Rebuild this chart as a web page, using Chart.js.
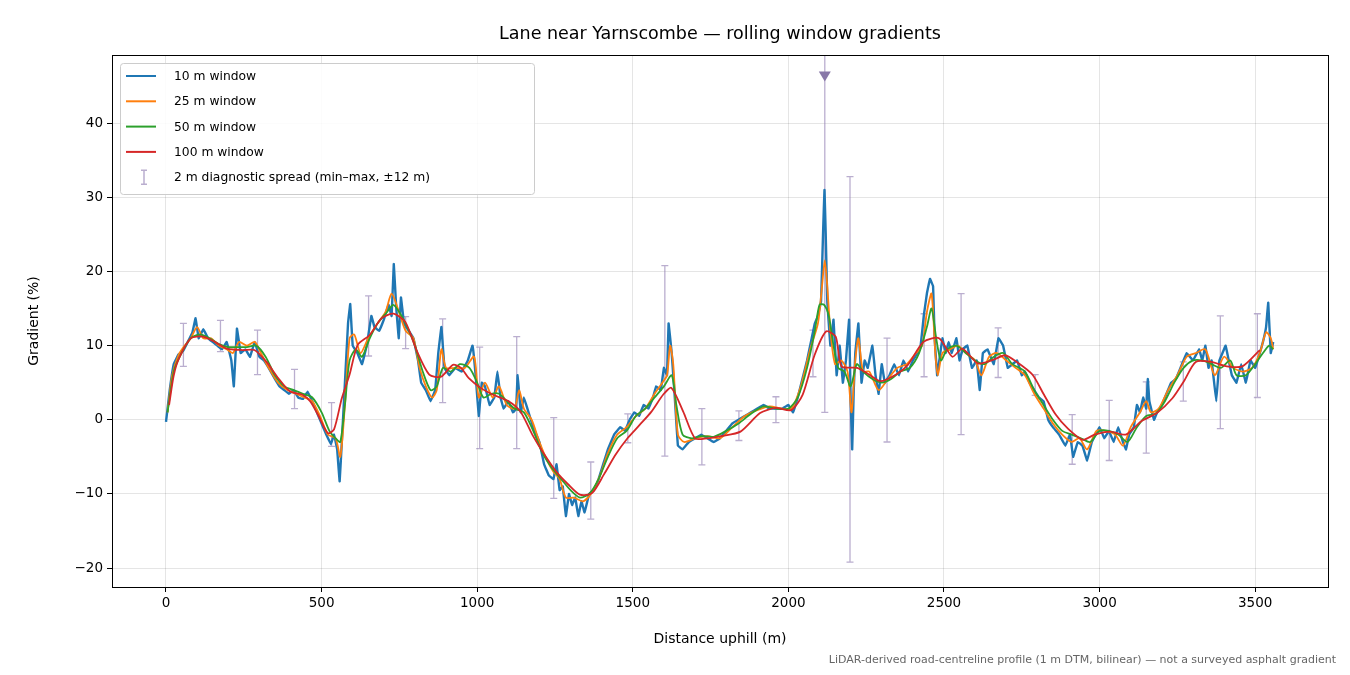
<!DOCTYPE html>
<html><head><meta charset="utf-8">
<script src="https://cdn.jsdelivr.net/npm/chart.js@4.4.1/dist/chart.umd.min.js"></script>
<style>html,body{margin:0;padding:0;background:#fff}#w{width:1350px;height:675px;position:relative}</style>
</head><body><div id="w"><canvas id="c"></canvas></div>
<script>
const xTicks=[0,500,1000,1500,2000,2500,3000,3500];
const yTicks=[-20,-10,0,10,20,30,40];
const seriesNames=["10 m window","25 m window","50 m window","100 m window"];
const spreadLabel="2 m diagnostic spread (min\u2013max, \u00b112 m)";
const w10=[[0,-0.3],[12,4],[25,7.5],[40,8.8],[55,9.3],[70,10.5],[85,11.8],[95,13.7],[105,11],[120,12.2],[135,11],[150,10.5],[165,10],[180,9.5],[195,10.5],[210,8],[218,4.5],[228,12.3],[240,9],[255,9.5],[270,8.5],[285,10.5],[300,8.5],[315,8],[330,7],[350,5.5],[365,4.5],[380,4],[395,3.5],[410,4],[425,3],[440,2.8],[455,3.8],[470,2.5],[480,1.5],[495,0],[505,-1],[515,-2],[530,-3.3],[540,-2],[550,-4],[558,-8.3],[565,-3],[575,5],[585,13],[592,15.6],[600,10],[615,9],[630,7.5],[645,10],[660,14],[670,12.5],[685,12],[700,13.5],[715,15.5],[725,14],[732,21],[740,15],[748,11],[755,16.5],[765,13],[780,12],[795,11],[810,8],[820,5],[835,4],[850,2.5],[865,4],[875,9],[885,12.5],[895,7],[910,6],[930,7],[950,6.5],[970,8],[985,10],[995,6],[1005,0.5],[1015,5],[1025,4.5],[1040,2],[1055,3],[1065,6.5],[1075,3],[1085,1.5],[1100,2.5],[1115,1],[1125,1.5],[1130,6],[1140,1],[1150,3],[1165,1],[1180,-1],[1200,-3],[1215,-6],[1230,-7.5],[1245,-8],[1255,-6],[1265,-9.5],[1275,-9],[1285,-13],[1295,-10],[1305,-11.5],[1315,-10.5],[1325,-13],[1335,-11],[1345,-12.5],[1360,-10],[1375,-9.5],[1390,-8],[1405,-6],[1420,-4],[1440,-2],[1460,-1],[1475,-1.5],[1490,0],[1505,1],[1520,0.5],[1535,2],[1550,1.5],[1565,3],[1575,4.5],[1590,4],[1600,7],[1610,6],[1615,13],[1625,9],[1635,3],[1645,-3.5],[1660,-4],[1680,-3],[1700,-2.5],[1720,-2],[1740,-2.5],[1760,-3],[1780,-2.5],[1800,-1.5],[1820,-0.5],[1840,0],[1860,0.5],[1880,1],[1900,1.5],[1920,2],[1940,1.5],[1960,1.5],[1980,1.5],[2000,2],[2015,1],[2030,3],[2045,5.5],[2060,8],[2075,11],[2085,13],[2095,14],[2105,16],[2112,26],[2116,31],[2120,25],[2125,16],[2135,10],[2145,13.5],[2155,6],[2165,10],[2175,5],[2185,8],[2195,13.5],[2200,3],[2205,-4],[2210,4],[2215,9],[2225,13],[2235,5],[2245,8],[2255,7],[2270,10],[2280,6],[2290,3.5],[2300,7.5],[2310,5],[2325,6],[2340,7.5],[2355,6],[2370,8],[2385,6.5],[2400,8],[2415,9],[2425,10],[2435,14],[2445,17],[2455,19],[2465,18],[2470,11],[2478,6],[2485,8],[2495,11],[2505,9],[2515,10.5],[2525,9],[2540,11],[2550,8],[2560,9.5],[2575,10],[2590,7],[2605,8],[2615,4],[2625,9],[2640,9.5],[2660,7.5],[2675,11],[2690,10],[2705,7],[2720,7.5],[2735,8],[2750,6],[2760,6.5],[2775,5],[2790,4],[2805,3],[2820,2.5],[2835,0],[2850,-1],[2870,-2],[2890,-3.5],[2905,-2],[2915,-5],[2930,-3],[2945,-3.5],[2960,-5.5],[2975,-3],[3000,-1],[3015,-2.5],[3030,-1.5],[3045,-3],[3060,-1],[3075,-3],[3085,-4],[3095,-2],[3110,-1],[3120,2],[3130,1],[3140,3],[3150,1.5],[3155,5.5],[3160,2.5],[3175,0],[3185,1],[3200,2],[3215,3.5],[3230,5],[3245,5.5],[3260,7],[3280,9],[3300,8],[3320,9.5],[3330,8],[3340,10],[3350,7],[3360,8],[3375,2.5],[3385,8],[3395,9],[3405,10],[3415,8],[3425,6],[3440,5],[3455,7.5],[3470,5],[3485,8],[3500,7],[3515,9],[3525,10.5],[3535,12.5],[3542,15.8],[3550,9],[3558,10.5]];
const w25=[[5,1],[20,6],[40,8.7],[60,10],[80,11],[100,12.5],[120,11],[145,11],[170,10],[195,9.5],[215,9],[235,10.5],[260,10],[285,10.5],[305,9],[330,7],[360,5],[390,4],[420,3.5],[445,3],[470,2.5],[495,0.5],[520,-2],[545,-2.5],[560,-5],[575,2],[590,11],[605,11.5],[625,9],[650,11],[680,13],[705,14.5],[725,17],[745,15],[770,12],[795,11],[815,7],[835,4.5],[855,3],[870,4],[885,9.5],[900,7],[930,7],[960,7],[990,8.5],[1005,3],[1025,5],[1050,3],[1070,4.5],[1095,2],[1120,1.5],[1135,4],[1150,1.5],[1175,0],[1200,-3],[1225,-5.5],[1245,-7],[1265,-8],[1285,-10.5],[1310,-10.5],[1340,-11],[1365,-10],[1395,-7.5],[1420,-4.5],[1450,-2],[1480,-1],[1510,0.5],[1540,1.5],[1570,3.5],[1595,5],[1610,6],[1620,10],[1630,7.5],[1645,-2],[1665,-3],[1700,-2.5],[1740,-2.2],[1780,-2.5],[1820,-1],[1860,0.5],[1900,1.3],[1940,1.8],[1980,1.5],[2010,1.5],[2040,4.5],[2070,9.5],[2095,13],[2108,18],[2117,21.5],[2125,18],[2135,12],[2150,7.5],[2170,8],[2190,6.5],[2203,1],[2215,8],[2225,11],[2240,6.5],[2260,6.5],[2290,4],[2320,5.5],[2350,7],[2380,7.5],[2410,9],[2430,10],[2445,14.5],[2460,17],[2472,9],[2480,6],[2495,9],[2520,9.5],[2545,10],[2570,9],[2600,8],[2620,6],[2645,8.5],[2670,9],[2700,8],[2730,7],[2760,6],[2790,3.5],[2820,1.5],[2850,-0.5],[2880,-2],[2910,-3],[2935,-2.5],[2960,-4],[2990,-1.5],[3020,-1.5],[3050,-2],[3075,-3.5],[3100,-1],[3130,1],[3150,2.5],[3165,1],[3190,1.5],[3220,4],[3250,6],[3280,8.5],[3310,9],[3340,9.5],[3370,6],[3400,8.5],[3430,7],[3460,6.5],[3490,7],[3515,9],[3535,11.8],[3550,11],[3558,9.5]];
const w50=[[5,1],[25,6.5],[50,9],[80,11],[110,11.5],[140,11],[170,10.2],[200,9.8],[230,9.8],[260,9.8],[290,10],[320,8.5],[350,6],[380,4.5],[410,4],[440,3.5],[470,3],[500,1],[525,-1.5],[545,-2.5],[560,-3],[575,2],[590,8],[610,9.5],[630,8.5],[655,11],[680,13],[710,14.5],[730,15.5],[750,14.5],[775,12.5],[800,10],[825,6.5],[850,4],[870,4.5],[890,7],[915,6.5],[945,7.5],[975,7],[1000,5],[1020,3],[1045,3.5],[1070,3.5],[1095,2.5],[1120,1.5],[1150,1],[1180,-1.5],[1210,-4.5],[1240,-6.5],[1270,-8],[1300,-9.5],[1330,-10.5],[1360,-10],[1390,-8],[1420,-5],[1450,-2.5],[1480,-1.5],[1510,0.5],[1540,1.5],[1570,3],[1600,4.5],[1625,6],[1640,2],[1660,-2],[1690,-2.5],[1720,-2.2],[1760,-2.3],[1800,-1.5],[1840,-0.5],[1880,0.8],[1920,1.8],[1960,1.5],[2000,1.5],[2030,3],[2060,7],[2085,12],[2100,15.5],[2115,15.5],[2130,14],[2145,10],[2160,7],[2180,6.5],[2200,4.5],[2220,7.5],[2240,6.5],[2270,5.5],[2300,5],[2330,5.5],[2360,6.5],[2390,7],[2420,9],[2445,12.5],[2460,15],[2475,11],[2490,8],[2510,9.5],[2540,10],[2570,9],[2600,8],[2630,7.5],[2660,8.5],[2690,9],[2720,7.5],[2760,6.5],[2790,4],[2820,2],[2850,0],[2880,-1.5],[2910,-2],[2940,-2.5],[2970,-3],[3000,-1.5],[3030,-1.5],[3060,-2],[3090,-3],[3120,-1],[3150,0.5],[3180,0.8],[3210,2.5],[3240,5],[3270,7],[3300,8],[3330,8],[3360,7.5],[3390,7],[3420,8],[3440,6],[3470,6],[3500,7.5],[3525,9],[3545,10],[3558,9.5]];
const w100=[[10,2],[25,6],[42,8.3],[80,11],[119,11.2],[157,10.5],[195,9.6],[246,9.4],[284,9.4],[323,7.8],[361,5.6],[399,3.8],[437,3.4],[463,2.5],[488,0.7],[520,-1.8],[540,-1.3],[565,2.9],[590,6.1],[616,10.1],[654,11.4],[693,13.7],[731,14.3],[769,13.2],[807,9.2],[846,6.1],[884,5.8],[922,7.4],[948,7],[973,5.6],[1011,4.3],[1050,3.4],[1101,2.5],[1139,1.1],[1177,-2],[1216,-4.7],[1254,-7],[1292,-8.7],[1330,-10.1],[1369,-9.9],[1407,-7.4],[1445,-4.7],[1483,-2.5],[1522,-0.7],[1560,1.1],[1598,3.4],[1624,4.3],[1662,1.1],[1700,-2.5],[1739,-2.5],[1784,-2.2],[1846,-1.6],[1909,0.9],[1959,1.6],[2009,1.3],[2046,3.4],[2084,8.7],[2121,11.9],[2152,11.2],[2171,7.2],[2221,7],[2259,6.1],[2296,5.2],[2346,6.1],[2384,7.4],[2434,10.5],[2484,11],[2527,8.5],[2559,9.6],[2609,7.6],[2659,8.1],[2696,8.7],[2734,7.8],[2784,6.1],[2821,3.4],[2859,0.7],[2896,-1.1],[2946,-2.7],[2984,-2],[3034,-1.6],[3084,-2],[3134,-0.2],[3184,0.9],[3234,2.9],[3271,5.2],[3309,7.8],[3359,7.8],[3409,7.2],[3459,7.2],[3515,9.4]];
const spreadX=[56,175,294,413,532,651,770,889,1008,1127,1246,1365,1484,1603,1722,1841,1960,2079,2117,2198,2317,2436,2555,2674,2793,2912,3031,3150,3269,3388,3507];
const spreadMin=[7.2,9.2,6.1,1.5,-3.6,8.6,9.6,2.3,-3.9,-3.9,-10.6,-13.4,-3.1,-4.9,-6.1,-2.8,-0.4,5.8,1.0,-19.2,-3.0,5.8,-2.0,5.7,3.3,-6.0,-5.5,-4.5,2.5,-1.2,3.0];
const spreadMax=[13.0,13.4,12.1,6.8,2.3,16.7,13.9,13.6,9.8,11.2,0.3,-5.7,0.8,20.8,1.5,1.2,3.1,12.1,75,32.8,11.0,14.3,17.0,12.4,6.1,0.7,2.6,5.1,7.8,14.0,14.3];
const colors=["#1f77b4","#ff7f0e","#2ca02c","#d62728"];
const spreadColor="rgba(140,120,175,0.6)";
const toPts=a=>a.map(p=>({x:p[0],y:p[1]}));
const X0=-173.5,X1=3734,Y0=-22.56,Y1=49.2;

const deco={id:'deco',
 beforeDatasetsDraw(ch){const c=ch.ctx,xs=ch.scales.x,ys=ch.scales.y,a=ch.chartArea;
  c.save();c.beginPath();c.rect(a.left,a.top,a.right-a.left,a.bottom-a.top);c.clip();
  c.strokeStyle=spreadColor;c.lineWidth=1.3;
  for(let i=0;i<spreadX.length;i++){const px=xs.getPixelForValue(spreadX[i]);
    const t=ys.getPixelForValue(Math.min(spreadMax[i],Y1)),b=ys.getPixelForValue(spreadMin[i]);
    c.beginPath();c.moveTo(px,t);c.lineTo(px,b);
    if(spreadMax[i]<Y1){c.moveTo(px-3.5,t);c.lineTo(px+3.5,t);}
    c.moveTo(px-3.5,b);c.lineTo(px+3.5,b);c.stroke();
    if(spreadMax[i]>=Y1){const my=ys.getPixelForValue(46.3);c.fillStyle="#8878a8";c.beginPath();c.moveTo(px-6,my-5);c.lineTo(px+6,my-5);c.lineTo(px,my+5);c.closePath();c.fill();}
  }
  c.restore();},
 afterDraw(ch){const c=ch.ctx,a=ch.chartArea;c.save();
  c.strokeStyle="#000";c.lineWidth=1;c.strokeRect(a.left+0.5,a.top+0.5,a.right-a.left,a.bottom-a.top);
  c.fillStyle="#000";c.textAlign="center";c.textBaseline="middle";
  c.font="17.5px 'DejaVu Sans'";c.fillText("Lane near Yarnscombe \u2014 rolling window gradients",(a.left+a.right)/2,34);
  c.font="14px 'DejaVu Sans'";c.fillText("Distance uphill (m)",(a.left+a.right)/2,639);
  c.save();c.translate(34,(a.top+a.bottom)/2);c.rotate(-Math.PI/2);c.fillText("Gradient (%)",0,0);c.restore();
  c.fillStyle="#666";c.textAlign="right";c.font="11px 'DejaVu Sans'";c.fillText("LiDAR-derived road-centreline profile (1 m DTM, bilinear) \u2014 not a surveyed asphalt gradient",1336,660);
  const lx=120,ly=63;c.fillStyle="rgba(255,255,255,0.85)";c.strokeStyle="#ccc";c.lineWidth=1;
  c.beginPath();c.roundRect(lx+0.5,ly+0.5,414,131,3);c.fill();c.stroke();
  c.font="12.3px 'DejaVu Sans'";c.textAlign="left";c.fillStyle="#000";
  for(let i=0;i<4;i++){const y=ly+13+i*25.3;c.strokeStyle=colors[i];c.lineWidth=2;c.beginPath();c.moveTo(lx+6,y);c.lineTo(lx+36,y);c.stroke();c.fillStyle="#000";c.fillText(seriesNames[i],lx+54,y+1);}
  const y=ly+13+4*25.3;c.strokeStyle=spreadColor;c.lineWidth=1.5;c.beginPath();c.moveTo(lx+24,y-7);c.lineTo(lx+24,y+7);c.moveTo(lx+21,y-7);c.lineTo(lx+27,y-7);c.moveTo(lx+21,y+7);c.lineTo(lx+27,y+7);c.stroke();
  c.fillStyle="#000";c.fillText(spreadLabel,lx+54,y+1);
  c.restore();}
};
const ds=[w10,w25,w50,w100].map((d,i)=>({label:seriesNames[i],data:toPts(d),borderColor:colors[i],borderWidth:i===0?2.4:1.8,pointRadius:0,tension:i===0?0.05:0.25,order:4-i,fill:false}));
new Chart(document.getElementById('c'),{type:'line',data:{datasets:ds},
 options:{responsive:true,maintainAspectRatio:false,animation:false,devicePixelRatio:1,
  layout:{padding:{top:55,right:22,left:0,bottom:0}},
  plugins:{legend:{display:false},tooltip:{enabled:false},title:{display:false}},
  scales:{
   x:{type:'linear',min:X0,max:X1,afterBuildTicks:s=>{s.ticks=xTicks.map(v=>({value:v}));},afterFit:s=>{s.height=88;},
     grid:{color:"rgba(0,0,0,0.1)",tickColor:"#000",tickLength:5},border:{display:false},
     ticks:{color:"#000",font:{family:"DejaVu Sans",size:13.5},padding:3,maxRotation:0,callback:v=>String(v)}},
   y:{type:'linear',min:Y0,max:Y1,afterBuildTicks:s=>{s.ticks=yTicks.map(v=>({value:v}));},afterFit:s=>{s.width=112;},
     grid:{color:"rgba(0,0,0,0.1)",tickColor:"#000",tickLength:5},border:{display:false},
     ticks:{color:"#000",font:{family:"DejaVu Sans",size:13.5},padding:4,callback:v=>v<0?"\u2212"+Math.abs(v):String(v)}}
  }},plugins:[deco]});
</script></body></html>
